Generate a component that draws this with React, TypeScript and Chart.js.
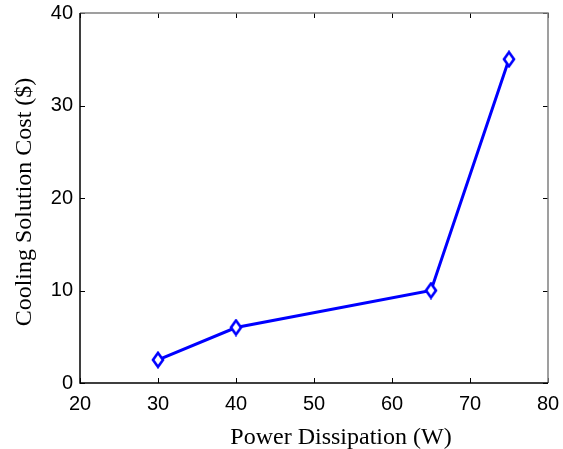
import React, { useEffect, useRef } from "react";
import { Chart, registerables } from "chart.js";

Chart.register(...registerables);

const powerW = [30, 40, 65, 75];
const costUSD = [2.5, 6, 10, 35];
const xTicks = [20, 30, 40, 50, 60, 70, 80];
const yTicks = [0, 10, 20, 30, 40];
const xTitle = "Power Dissipation (W)";
const yTitle = "Cooling Solution Cost ($)";

function makeDiamond(): HTMLCanvasElement {
  const c = document.createElement("canvas");
  const w = 16;
  const h = 18;
  c.width = w;
  c.height = h;
  const g = c.getContext("2d")!;
  g.beginPath();
  g.moveTo(w / 2, 2);
  g.lineTo(w / 2 + 5, h / 2);
  g.lineTo(w / 2, h - 2);
  g.lineTo(w / 2 - 5, h / 2);
  g.closePath();
  g.fillStyle = "#ffffff";
  g.fill();
  g.lineWidth = 2.6;
  g.strokeStyle = "#0000ff";
  g.stroke();
  return c;
}

const boxPlugin = {
  id: "boxTicks",
  afterDraw(chart: any) {
    const { ctx, chartArea } = chart;
    const { left, right, top, bottom } = chartArea;
    const xs = chart.scales.x;
    const ys = chart.scales.y;
    const len = 5;
    ctx.save();
    ctx.lineWidth = 1;
    ctx.strokeStyle = "#000";
    ctx.beginPath();
    for (const v of xTicks) {
      const px = Math.round(xs.getPixelForValue(v)) + 0.5;
      ctx.moveTo(px, bottom);
      ctx.lineTo(px, bottom - len);
      ctx.moveTo(px, top);
      ctx.lineTo(px, top + len);
    }
    for (const v of yTicks) {
      const py = Math.round(ys.getPixelForValue(v)) + 0.5;
      ctx.moveTo(left, py);
      ctx.lineTo(left + len, py);
      ctx.moveTo(right, py);
      ctx.lineTo(right - len, py);
    }
    ctx.stroke();
    ctx.lineWidth = 1.5;
    ctx.strokeStyle = "#808080";
    ctx.beginPath();
    ctx.moveTo(left, top);
    ctx.lineTo(right, top);
    ctx.lineTo(right, bottom);
    ctx.stroke();
    ctx.strokeStyle = "#000";
    ctx.beginPath();
    ctx.moveTo(left, top);
    ctx.lineTo(left, bottom);
    ctx.lineTo(right, bottom);
    ctx.stroke();

    // axis titles
    ctx.fillStyle = "#000";
    ctx.font = "24px 'Liberation Serif'";
    ctx.textAlign = "center";
    ctx.textBaseline = "alphabetic";
    ctx.fillText(xTitle, (left + right) / 2 + 27, 444);
    ctx.translate(31, (top + bottom) / 2 + 4);
    ctx.rotate(-Math.PI / 2);
    ctx.fillText(yTitle, 0, 0);
    ctx.restore();
  },
};

export default function App() {
  const ref = useRef<HTMLCanvasElement | null>(null);
  useEffect(() => {
    document.body.style.margin = "0";
    const canvas = ref.current!;
    const diamond = makeDiamond();
    const chart = new Chart(canvas, {
      type: "line",
      data: {
        datasets: [
          {
            data: powerW.map((x, i) => ({ x, y: costUSD[i] })),
            borderColor: "#0000ff",
            borderWidth: 3,
            backgroundColor: "#ffffff",
            pointStyle: diamond as any,
            pointRadius: 6,
            tension: 0,
          },
        ],
      },
      options: {
        animation: false,
        responsive: false,
        maintainAspectRatio: false,
        layout: { padding: { top: 13, right: 15, left: 0, bottom: 0 } },
        plugins: { legend: { display: false }, tooltip: { enabled: false } },
        scales: {
          x: {
            type: "linear",
            min: 20,
            max: 80,
            afterFit: (s: any) => {
              s.height = 66;
              s.paddingLeft = 0;
              s.paddingRight = 0;
            },
            afterBuildTicks: (s: any) => {
              s.ticks = xTicks.map((v) => ({ value: v }));
            },
            grid: { display: false, drawTicks: false },
            border: { display: false },
            ticks: {
              color: "#000",
              padding: 9,
              font: { family: "Liberation Sans", size: 20 },
              maxRotation: 0,
            },
          },
          y: {
            type: "linear",
            min: 0,
            max: 40,
            afterFit: (s: any) => {
              s.width = 80;
              s.paddingTop = 0;
              s.paddingBottom = 0;
            },
            afterBuildTicks: (s: any) => {
              s.ticks = yTicks.map((v) => ({ value: v }));
            },
            grid: { display: false, drawTicks: false },
            border: { display: false },
            ticks: {
              color: "#000",
              padding: 7,
              font: { family: "Liberation Sans", size: 20 },
            },
          },
        },
      },
      plugins: [boxPlugin],
    });
    return () => chart.destroy();
  }, []);
  return (
    <div style={{ width: 563, height: 449, background: "#fff" }}>
      <canvas ref={ref} width={563} height={449} style={{ display: "block" }} />
    </div>
  );
}
